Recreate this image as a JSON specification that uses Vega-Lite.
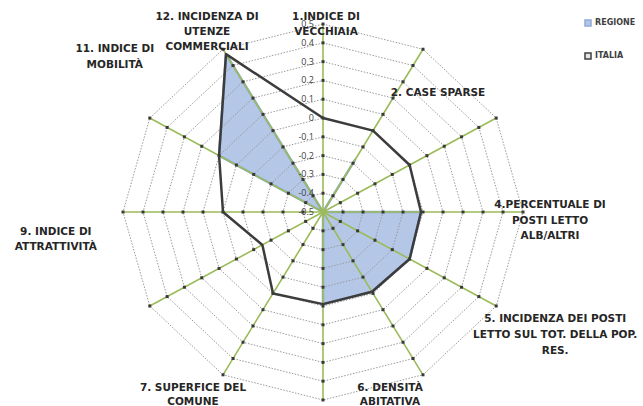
{
"$schema":"https://vega.github.io/schema/vega-lite/v6.json",
"width":643,"height":406,"padding":0,"autosize":{"type":"none"},
"background":"#ffffff",
"config":{"view":{"stroke":null}},
"datasets":{
 "series":[
  {"series":"REGIONE","axis":1,"value":-0.5},
  {"series":"REGIONE","axis":2,"value":-0.18},
  {"series":"REGIONE","axis":3,"value":-0.5},
  {"series":"REGIONE","axis":4,"value":-0.01},
  {"series":"REGIONE","axis":5,"value":0.0},
  {"series":"REGIONE","axis":6,"value":-0.01},
  {"series":"REGIONE","axis":7,"value":-0.01},
  {"series":"REGIONE","axis":8,"value":-0.5},
  {"series":"REGIONE","axis":9,"value":-0.5},
  {"series":"REGIONE","axis":10,"value":-0.5},
  {"series":"REGIONE","axis":11,"value":0.1},
  {"series":"REGIONE","axis":12,"value":0.47},
  {"series":"ITALIA","axis":1,"value":0.0},
  {"series":"ITALIA","axis":2,"value":0.0},
  {"series":"ITALIA","axis":3,"value":0.0},
  {"series":"ITALIA","axis":4,"value":-0.01},
  {"series":"ITALIA","axis":5,"value":0.0},
  {"series":"ITALIA","axis":6,"value":-0.01},
  {"series":"ITALIA","axis":7,"value":-0.01},
  {"series":"ITALIA","axis":8,"value":0.0},
  {"series":"ITALIA","axis":9,"value":-0.15},
  {"series":"ITALIA","axis":10,"value":0.0},
  {"series":"ITALIA","axis":11,"value":0.1},
  {"series":"ITALIA","axis":12,"value":0.47}
 ],
 "rings":[
  {"ring":-0.5,"t":"-0.5","k":[1,2,3,4,5,6,7,8,9,10,11,12]},
  {"ring":-0.4,"t":"-0.4","k":[1,2,3,4,5,6,7,8,9,10,11,12]},
  {"ring":-0.3,"t":"-0.3","k":[1,2,3,4,5,6,7,8,9,10,11,12]},
  {"ring":-0.2,"t":"-0.2","k":[1,2,3,4,5,6,7,8,9,10,11,12]},
  {"ring":-0.1,"t":"-0.1","k":[1,2,3,4,5,6,7,8,9,10,11,12]},
  {"ring":0.0,"t":"0","k":[1,2,3,4,5,6,7,8,9,10,11,12]},
  {"ring":0.1,"t":"0.1","k":[1,2,3,4,5,6,7,8,9,10,11,12]},
  {"ring":0.2,"t":"0.2","k":[1,2,3,4,5,6,7,8,9,10,11,12]},
  {"ring":0.3,"t":"0.3","k":[1,2,3,4,5,6,7,8,9,10,11,12]},
  {"ring":0.4,"t":"0.4","k":[1,2,3,4,5,6,7,8,9,10,11,12]},
  {"ring":0.5,"t":"0.5","k":[1,2,3,4,5,6,7,8,9,10,11,12]}
 ],
 "labels":[
  {"axis":1,"t":"1.INDICE DI\nVECCHIAIA"},
  {"axis":2,"t":"2. CASE SPARSE"},
  {"axis":4,"t":"4.PERCENTUALE DI\nPOSTI LETTO\nALB/ALTRI"},
  {"axis":5,"t":"5. INCIDENZA DEI POSTI\nLETTO SUL TOT. DELLA POP.\nRES."},
  {"axis":6,"t":"6. DENSITÀ\nABITATIVA"},
  {"axis":7,"t":"7. SUPERFICE DEL\nCOMUNE"},
  {"axis":9,"t":"9. INDICE DI\nATTRATTIVITÀ"},
  {"axis":11,"t":"11. INDICE DI\nMOBILITÀ"},
  {"axis":12,"t":"12. INCIDENZA DI\nUTENZE\nCOMMERCIALI"}
 ]
},
"encoding":{
 "x":{"field":"px","type":"quantitative","scale":{"domain":[-16.15,16.0],"nice":false,"zero":false},"axis":null},
 "y":{"field":"py","type":"quantitative","scale":{"domain":[-10.32,11.28],"nice":false,"zero":false},"axis":null}
},
"layer":[
 {
  "data":{"name":"series"},
  "transform":[
   {"filter":"datum.series === 'REGIONE'"},
   {"calculate":"(datum.value + 0.5) * 10","as":"r"},
   {"calculate":"(datum.axis - 1) * PI / 6","as":"a"},
   {"calculate":"datum.r * sin(datum.a)","as":"px"},
   {"calculate":"datum.r * cos(datum.a)","as":"py"}
  ],
  "mark":{"type":"line","interpolate":"linear-closed","strokeWidth":2.5,"strokeJoin":"round"},
  "encoding":{
   "order":{"field":"axis","type":"quantitative"},
   "fill":{"field":"series","type":"nominal","scale":{"domain":["REGIONE","ITALIA"],"range":["#b4c7e7","#e6e6e6"]},
     "legend":{"orient":"none","legendX":584,"legendY":19,"title":null,"symbolType":"square","symbolSize":36,"labelFont":"DejaVu Sans","labelFontWeight":"bold","labelFontSize":8,"labelColor":"#404040","rowPadding":21,"labelOffset":3,"padding":0,
       "encode":{"symbols":{"update":{"fill":{"scale":"fill","field":"value"},"stroke":{"scale":"stroke","field":"value"},"strokeWidth":{"value":1.5},"opacity":{"value":1}}}}}},
   "stroke":{"field":"series","type":"nominal","scale":{"domain":["REGIONE","ITALIA"],"range":["#8eaadb","#404040"]},
     "legend":{"orient":"none","legendX":584,"legendY":19,"title":null,"symbolType":"square","symbolSize":36,"labelFont":"DejaVu Sans","labelFontWeight":"bold","labelFontSize":8,"labelColor":"#404040","rowPadding":21,"labelOffset":3,"padding":0,
       "encode":{"symbols":{"update":{"fill":{"scale":"fill","field":"value"},"stroke":{"scale":"stroke","field":"value"},"strokeWidth":{"value":1.5},"opacity":{"value":1}}}}}}
  }
 },
 {
  "data":{"name":"rings"},
  "transform":[
   {"flatten":["k"]},
   {"calculate":"(datum.ring + 0.5) * 10","as":"r"},
   {"calculate":"(datum.k - 1) * PI / 6","as":"a"},
   {"calculate":"datum.r * sin(datum.a)","as":"px"},
   {"calculate":"datum.r * cos(datum.a)","as":"py"}
  ],
  "layer":[
   {
    "transform":[{"filter":"datum.ring > -0.45"}],
    "mark":{"type":"line","interpolate":"linear-closed","stroke":"#9a9a9a","strokeWidth":1,"strokeDash":[1.5,1.5]},
    "encoding":{"detail":{"field":"ring","type":"nominal"},"order":{"field":"k","type":"quantitative"}}
   },
   {
    "transform":[{"filter":"datum.ring > 0.45"}],
    "mark":{"type":"rule","stroke":"#9bbb59","strokeWidth":1.6},
    "encoding":{"x":{"datum":0},"y":{"datum":0},"x2":{"field":"px"},"y2":{"field":"py"}}
   },
   {
    "transform":[{"filter":"datum.ring > -0.45"}],
    "mark":{"type":"square","size":9,"color":"#3a3a3a","filled":true,"opacity":1},
    "encoding":{}
   }
  ]
 },
 {
  "data":{"name":"series"},
  "transform":[
   {"filter":"datum.series === 'ITALIA'"},
   {"calculate":"(datum.value + 0.5) * 10","as":"r"},
   {"calculate":"(datum.axis - 1) * PI / 6","as":"a"},
   {"calculate":"datum.r * sin(datum.a)","as":"px"},
   {"calculate":"datum.r * cos(datum.a)","as":"py"}
  ],
  "mark":{"type":"line","interpolate":"linear-closed","stroke":"#3c3c3c","strokeWidth":2.5,"strokeJoin":"round"},
  "encoding":{"order":{"field":"axis","type":"quantitative"}}
 },
 {
  "data":{"name":"rings"},
  "transform":[
   {"flatten":["k"]},
   {"filter":"datum.k === 1"},
   {"calculate":"(datum.ring + 0.5) * 10","as":"r"},
   {"calculate":"(datum.k - 1) * PI / 6","as":"a"},
   {"calculate":"datum.r * sin(datum.a)","as":"px"},
   {"calculate":"datum.r * cos(datum.a)","as":"py"}
  ],
  "mark":{"type":"text","align":"right","baseline":"middle","dx":-9,"font":"Open Sans","fontSize":9,"fill":"#404040"},
  "encoding":{"text":{"field":"t","type":"nominal"}}
 },
 {
  "data":{"name":"labels"},
  "transform":[
   {"calculate":"(datum.axis - 1) * PI / 6","as":"a"},
   {"calculate":"10 * sin(datum.a)","as":"px"},
   {"calculate":"10 * cos(datum.a)","as":"py"}
  ],
  "encoding":{"text":{"field":"t","type":"nominal"}},
  "layer":[
   {"transform":[{"filter":"datum.axis === 1"}],"mark":{"type":"text","dx":3,"dy":-7,"align":"center","baseline":"middle","lineBreak":"\n","lineHeight":15,"font":"DejaVu Sans","fontWeight":"bold","fontSize":10.5,"fill":"#262626"}},
   {"transform":[{"filter":"datum.axis === 2"}],"mark":{"type":"text","dx":15,"dy":44,"align":"center","baseline":"middle","lineBreak":"\n","lineHeight":15,"font":"DejaVu Sans","fontWeight":"bold","fontSize":10.5,"fill":"#262626"}},
   {"transform":[{"filter":"datum.axis === 4"}],"mark":{"type":"text","dx":27,"dy":-7,"align":"center","baseline":"middle","lineBreak":"\n","lineHeight":15.5,"font":"DejaVu Sans","fontWeight":"bold","fontSize":10.5,"fill":"#262626"}},
   {"transform":[{"filter":"datum.axis === 5"}],"mark":{"type":"text","dx":59,"dy":13,"align":"center","baseline":"middle","lineBreak":"\n","lineHeight":16,"font":"DejaVu Sans","fontWeight":"bold","fontSize":10.5,"fill":"#262626"}},
   {"transform":[{"filter":"datum.axis === 6"}],"mark":{"type":"text","dx":-33,"dy":13,"align":"center","baseline":"middle","lineBreak":"\n","lineHeight":14,"font":"DejaVu Sans","fontWeight":"bold","fontSize":10.5,"fill":"#262626"}},
   {"transform":[{"filter":"datum.axis === 7"}],"mark":{"type":"text","dx":-130,"dy":-12,"align":"center","baseline":"middle","lineBreak":"\n","lineHeight":14,"font":"DejaVu Sans","fontWeight":"bold","fontSize":10.5,"fill":"#262626"}},
   {"transform":[{"filter":"datum.axis === 9"}],"mark":{"type":"text","dx":-94,"dy":-74,"align":"center","baseline":"middle","lineBreak":"\n","lineHeight":15,"font":"DejaVu Sans","fontWeight":"bold","fontSize":10.5,"fill":"#262626"}},
   {"transform":[{"filter":"datum.axis === 11"}],"mark":{"type":"text","dx":-35,"dy":-69,"align":"center","baseline":"middle","lineBreak":"\n","lineHeight":16,"font":"DejaVu Sans","fontWeight":"bold","fontSize":10.5,"fill":"#262626"}},
   {"transform":[{"filter":"datum.axis === 12"}],"mark":{"type":"text","dx":-16,"dy":-32,"align":"center","baseline":"middle","lineBreak":"\n","lineHeight":15,"font":"DejaVu Sans","fontWeight":"bold","fontSize":10.5,"fill":"#262626"}}
  ]
 }
]
}
